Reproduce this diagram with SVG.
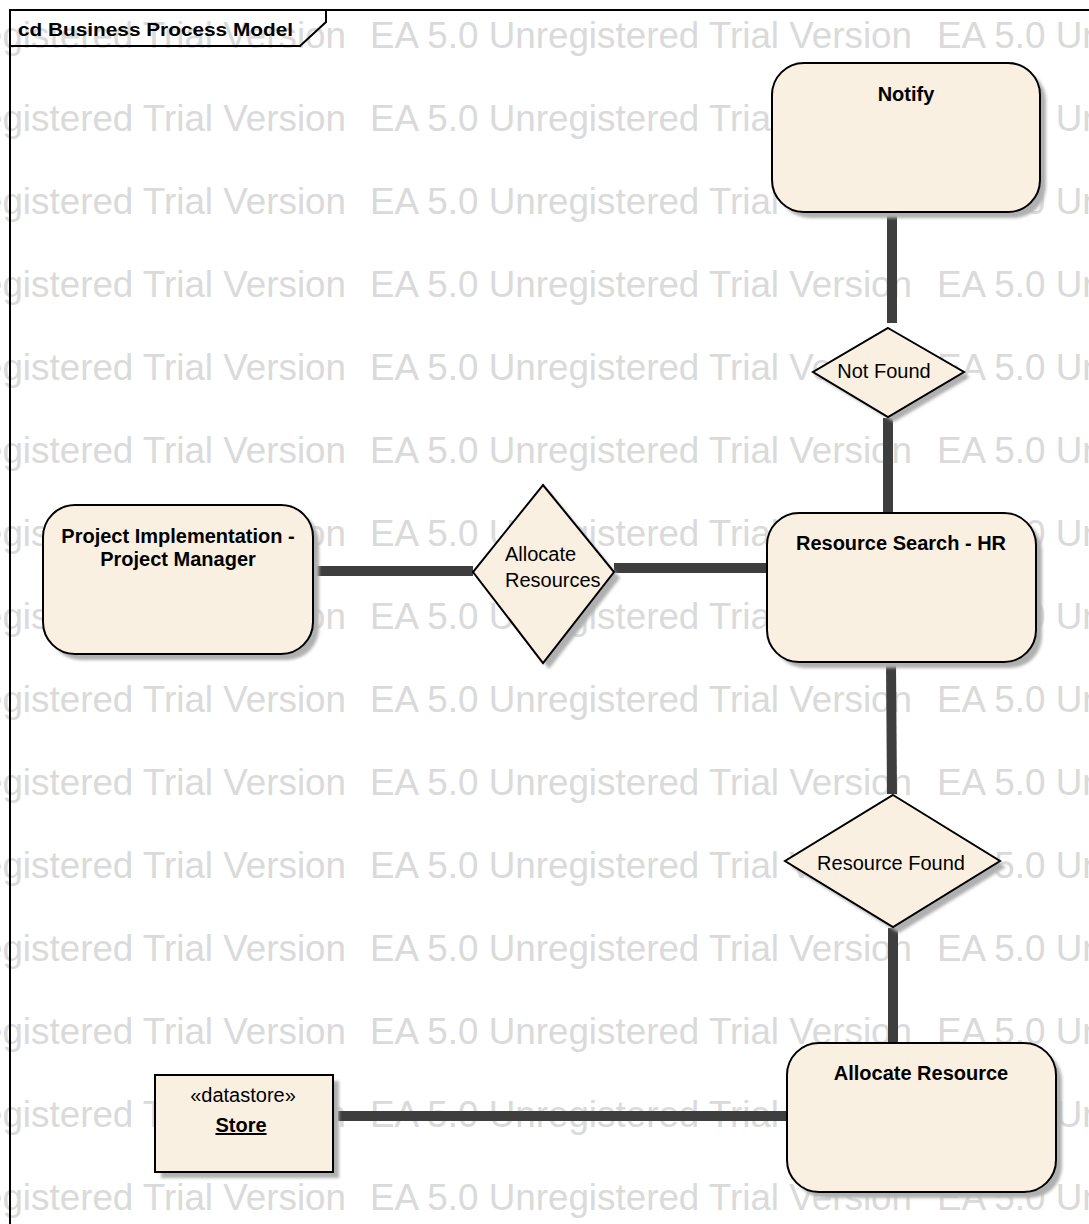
<svg xmlns="http://www.w3.org/2000/svg" width="1089" height="1224" viewBox="0 0 1089 1224">
  <defs>
    <style>
      .wm { font-family: "Liberation Sans", Arial, sans-serif; font-size: 36px; fill: #dadada; }
      .frame { fill: none; stroke: #000; stroke-width: 2; }
      .frame-title { font-family: "Liberation Sans", Arial, sans-serif; font-size: 19px; font-weight: bold; fill: #000; }
      .node { fill: #faf0e2; stroke: #000; stroke-width: 2; }
      .shadow { fill: #b0b0b0; filter: url(#soft); }
      .title { font-family: "Liberation Sans", Arial, sans-serif; font-size: 20px; font-weight: bold; fill: #000; text-anchor: middle; }
      .label { font-family: "Liberation Sans", Arial, sans-serif; font-size: 20px; fill: #000; }
      .mid { text-anchor: middle; }
      .link { stroke: #3e3e3e; stroke-width: 10; fill: none; }
    </style>
    <filter id="soft" x="-10%" y="-10%" width="120%" height="120%">
      <feGaussianBlur stdDeviation="1.5"/>
    </filter>
    <g id="wm-row">
      <text class="wm" x="-196" textLength="542" lengthAdjust="spacingAndGlyphs">EA 5.0 Unregistered Trial Version</text>
      <text class="wm" x="370" textLength="542" lengthAdjust="spacingAndGlyphs">EA 5.0 Unregistered Trial Version</text>
      <text class="wm" x="937" textLength="542" lengthAdjust="spacingAndGlyphs">EA 5.0 Unregistered Trial Version</text>
    </g>
  </defs>

  <rect x="0" y="0" width="1089" height="1224" fill="#fff"/>

  <!-- background watermark rows -->
  <g id="watermark">
    <use href="#wm-row" y="48"/>
    <use href="#wm-row" y="131"/>
    <use href="#wm-row" y="214"/>
    <use href="#wm-row" y="297"/>
    <use href="#wm-row" y="380"/>
    <use href="#wm-row" y="463"/>
    <use href="#wm-row" y="546"/>
    <use href="#wm-row" y="629"/>
    <use href="#wm-row" y="712"/>
    <use href="#wm-row" y="795"/>
    <use href="#wm-row" y="878"/>
    <use href="#wm-row" y="961"/>
    <use href="#wm-row" y="1044"/>
    <use href="#wm-row" y="1127"/>
    <use href="#wm-row" y="1210"/>
  </g>

  <!-- diagram frame with name tab -->
  <g id="frame">
    <path class="frame" d="M10 1224 V10 H1089"/>
    <path class="frame" d="M10 46 H300 L326 22 V10"/>
    <text class="frame-title" x="18" y="36" textLength="275" lengthAdjust="spacingAndGlyphs">cd Business Process Model</text>
  </g>

  <!-- connectors -->
  <g id="connectors">
    <line class="link" x1="892" y1="212" x2="892" y2="323"/>
    <line class="link" x1="888" y1="418" x2="888" y2="513"/>
    <line class="link" x1="891" y1="662" x2="892" y2="794"/>
    <line class="link" x1="893" y1="928" x2="893" y2="1043"/>
    <line class="link" x1="313" y1="571" x2="473" y2="571"/>
    <line class="link" x1="614" y1="568" x2="767" y2="568"/>
    <line class="link" x1="338" y1="1116" x2="787" y2="1116"/>
  </g>

  <!-- activity: Notify -->
  <g id="notify">
    <rect class="shadow" x="778" y="69" width="268" height="149" rx="32"/>
    <rect class="node" x="772" y="63" width="268" height="149" rx="32"/>
    <text class="title" x="906" y="101">Notify</text>
  </g>

  <!-- decision: Not Found -->
  <g id="not-found">
    <polygon class="shadow" points="894,334 970,377 894,422 818,377"/>
    <polygon class="node" points="888,328 964,372 888,417 813,372"/>
    <text class="label mid" x="884" y="378">Not Found</text>
  </g>

  <!-- activity: Project Implementation - Project Manager -->
  <g id="project-implementation">
    <rect class="shadow" x="49" y="511" width="270" height="149" rx="32"/>
    <rect class="node" x="43" y="505" width="270" height="149" rx="32"/>
    <text class="title" x="178" y="543">Project Implementation -</text>
    <text class="title" x="178" y="566">Project Manager</text>
  </g>

  <!-- decision: Allocate Resources -->
  <g id="allocate-resources">
    <polygon class="shadow" points="549,491 620,578 549,669 479,578"/>
    <polygon class="node" points="543,485 614,572 543,663 473,572"/>
    <text class="label" x="505" y="561">Allocate</text>
    <text class="label" x="505" y="587">Resources</text>
  </g>

  <!-- activity: Resource Search - HR -->
  <g id="resource-search">
    <rect class="shadow" x="773" y="519" width="269" height="149" rx="32"/>
    <rect class="node" x="767" y="513" width="269" height="149" rx="32"/>
    <text class="title" x="901" y="550">Resource Search - HR</text>
  </g>

  <!-- decision: Resource Found -->
  <g id="resource-found">
    <polygon class="shadow" points="899,801 1006,867 899,933 791,867"/>
    <polygon class="node" points="893,795 1000,861 893,927 785,861"/>
    <text class="label mid" x="891" y="870">Resource Found</text>
  </g>

  <!-- activity: Allocate Resource -->
  <g id="allocate-resource">
    <rect class="shadow" x="793" y="1049" width="269" height="149" rx="32"/>
    <rect class="node" x="787" y="1043" width="269" height="149" rx="32"/>
    <text class="title" x="921" y="1080">Allocate Resource</text>
  </g>

  <!-- datastore: Store -->
  <g id="store">
    <rect class="shadow" x="161" y="1081" width="178" height="97"/>
    <rect class="node" x="155" y="1075" width="178" height="97"/>
    <text class="label mid" x="243" y="1102">«datastore»</text>
    <text class="title" x="241" y="1132" text-decoration="underline">Store</text>
  </g>
</svg>
